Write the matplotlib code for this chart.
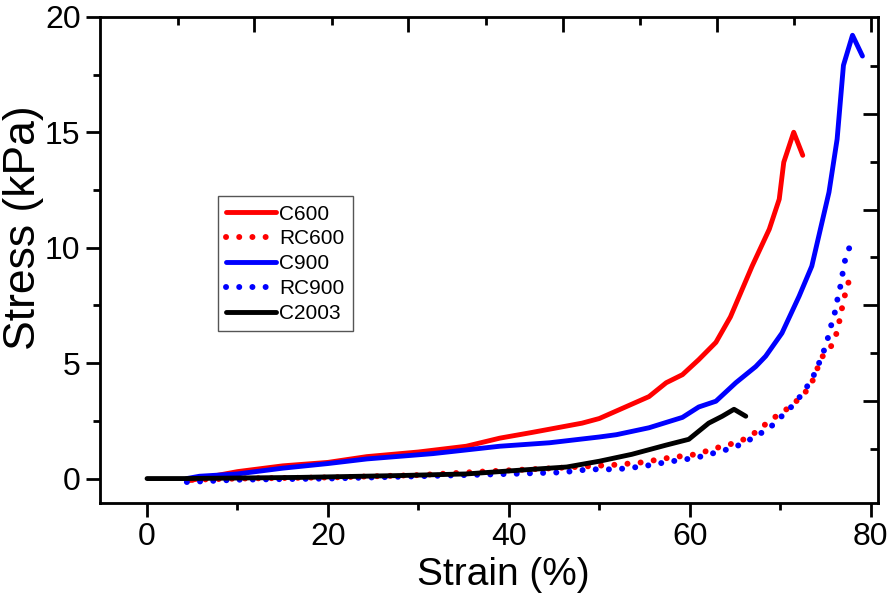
import matplotlib
matplotlib.use("Agg")
import matplotlib.pyplot as plt

plt.rcParams['font.family'] = ['Liberation Sans', 'DejaVu Sans']

# C600 - red solid
c600_x = [4.5, 10, 15, 20, 24.3, 30, 35.3, 39, 42.6, 48.1, 50, 55.5, 57.4, 59.2, 61,
          62.9, 64.5, 66.9, 68.8, 69.9, 70.4, 71.5, 72.5]
c600_y = [-0.1, 0.3, 0.55, 0.7, 0.95, 1.15, 1.4, 1.75, 2.0, 2.4, 2.6, 3.55, 4.15, 4.5, 5.15,
          5.9, 7.0, 9.2, 10.8, 12.1, 13.7, 15.0, 14.0]

# RC600 - red dotted
rc600_x = [5, 10, 20.5, 30, 37, 45, 51.9, 54.7, 57.7, 60.7, 63.6, 65.1, 66.6, 67.9, 69,
           70.7, 72.4, 73.4, 74.6, 75.6, 76.3, 76.7, 77, 77.4, 77.8]
rc600_y = [-0.05, 0.0, 0.05, 0.15, 0.3, 0.45, 0.6, 0.7, 0.9, 1.05, 1.4, 1.55, 1.8, 2.2, 2.55,
           3.0, 3.55, 4.05, 5.25, 5.7, 6.35, 7.1, 7.7, 8.3, 8.8]

# C900 - blue solid
c900_x = [4.4, 5.8, 10, 15, 20, 24.3, 31.6, 39, 44.5, 50, 51.9, 55.5, 59.2, 61, 62.9,
          65.1, 67.3, 68.4, 70.2, 72.1, 73.5, 75.4, 76.3, 77.0, 78.0, 79.1]
c900_y = [0.0, 0.1, 0.2, 0.45, 0.65, 0.85, 1.08, 1.4, 1.55, 1.8, 1.9, 2.2, 2.65, 3.1, 3.35,
          4.15, 4.85, 5.3, 6.3, 7.9, 9.2, 12.4, 14.7, 17.9, 19.2, 18.3]

# RC900 - blue dotted
rc900_x = [4.4, 10, 20, 30, 40, 45.9, 48.9, 51.9, 54.7, 57.7, 60.7, 63.6, 64.9, 66.3, 67.5,
           68.6, 69.9, 71, 72.1, 73, 73.9, 74.5, 75.1, 75.5, 76, 76.3, 76.7, 77, 77.3, 77.9, 78.5]
rc900_y = [-0.15, -0.05, 0.0, 0.1, 0.2, 0.27, 0.4, 0.4, 0.52, 0.73, 0.9, 1.2, 1.35, 1.6, 1.9,
           2.1, 2.6, 3.0, 3.5, 4.0, 4.6, 5.2, 5.8, 6.45, 7.1, 7.7, 8.4, 9.1, 9.7, 10.2, 10.35]

# C2003 - black solid
c2003_x = [0, 4, 16.9, 27.9, 35.3, 42.6, 46.4, 50, 53.6, 57.4, 59.9, 62.1, 63.6, 64.9, 66.2]
c2003_y = [0, 0.0, 0.05, 0.13, 0.2, 0.4, 0.5, 0.75, 1.05, 1.45, 1.7, 2.4, 2.7, 3.0, 2.7]

# unlabeled ticks on top / right frame
top_major = [11.8, 28.9, 46.0, 63.0, 80.0]
top_minor = [3.4, 20.4, 37.5, 54.5, 71.5]
right_major = [3.38, 7.53, 11.65, 15.8]
right_minor = [1.3, 5.45, 9.6, 13.72, 17.87]

fig = plt.figure(figsize=(8.93, 6.0), dpi=100)
ax = fig.add_axes([0.112, 0.162, 0.871, 0.810])

lw = 3.5
dot = (0, (0.01, 2.2))
ax.plot(c600_x, c600_y, color='#ff0000', lw=lw, label='C600', solid_capstyle='round')
ax.plot(rc600_x, rc600_y, color='#ff0000', lw=4.3, ls=dot, dash_capstyle='round', label='RC600')
ax.plot(c900_x, c900_y, color='#0000ff', lw=lw, label='C900', solid_capstyle='round')
ax.plot(rc900_x, rc900_y, color='#0000ff', lw=4.3, ls=dot, dash_capstyle='round', label='RC900')
ax.plot(c2003_x, c2003_y, color='black', lw=lw, label='C2003', solid_capstyle='round')

ax.set_xlim(-5.2, 80.8)
ax.set_ylim(-1.05, 20)
ax.set_xticks([0, 20, 40, 60, 80])
ax.set_xticks([10, 30, 50, 70], minor=True)
ax.set_yticks([0, 5, 10, 15, 20])
ax.set_yticks([2.5, 7.5, 12.5, 17.5], minor=True)
ax.tick_params(which='major', direction='out', length=10, width=2, labelsize=23, pad=4)
ax.tick_params(which='minor', direction='out', length=5, width=2)
for s in ax.spines.values():
    s.set_linewidth(2)

ax.set_xlabel('Strain (%)', fontsize=28)
ax.set_ylabel('Stress (kPa)', fontsize=32)
ax.xaxis.set_label_coords(0.518, -0.112)
ax.yaxis.set_label_coords(-0.072, 0.566)

# top and right inner ticks
axt = ax.twiny()
axt.set_xlim(ax.get_xlim())
axt.set_xticks(top_major)
axt.set_xticks(top_minor, minor=True)
axt.tick_params(which='major', direction='in', length=11, width=2, labeltop=False)
axt.tick_params(which='minor', direction='in', length=6, width=2)
axr = ax.twinx()
axr.set_ylim(ax.get_ylim())
axr.set_yticks(right_major)
axr.set_yticks(right_minor, minor=True)
axr.tick_params(which='major', direction='in', length=11, width=2, labelright=False)
axr.tick_params(which='minor', direction='in', length=6, width=2)

leg = ax.legend(loc='upper left', bbox_to_anchor=(0.244, 0.673), bbox_transform=fig.transFigure,
                fontsize=15, handlelength=2.4, handletextpad=0.15, labelspacing=0.28,
                borderaxespad=0, fancybox=False, framealpha=1, borderpad=0.4)
leg.get_frame().set_edgecolor('#555555')
leg.get_frame().set_linewidth(1.0)

fig.savefig('out.png', dpi=100)
